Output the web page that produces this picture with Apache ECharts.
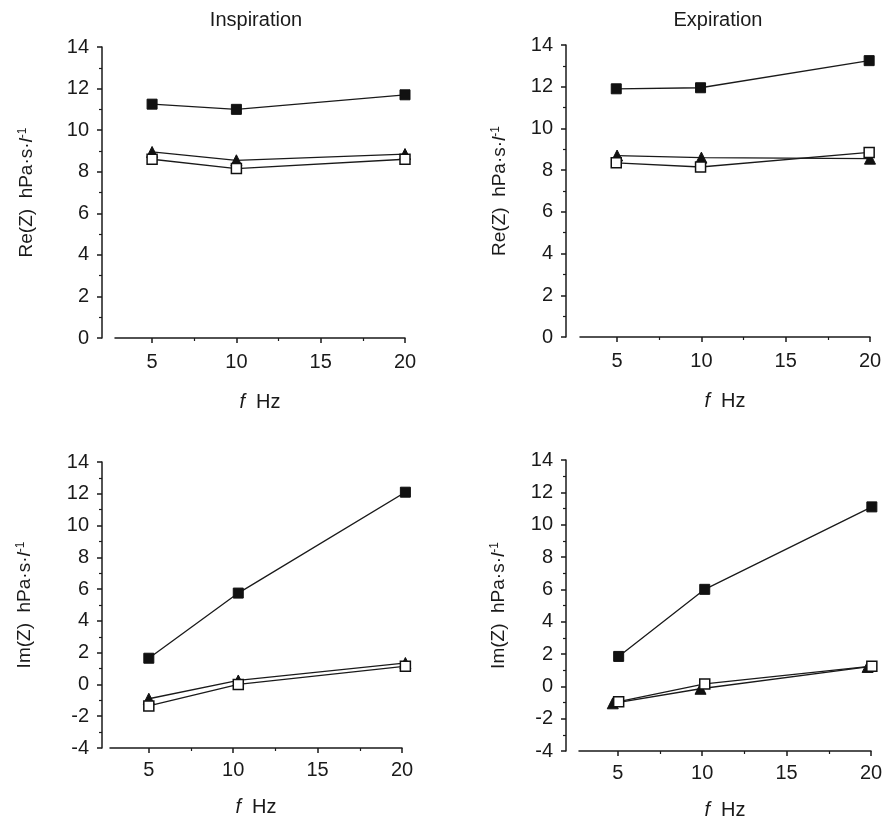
<!DOCTYPE html>
<html lang="en">
<head>
  <meta charset="UTF-8">
  <title>Impedance</title>
  <script src="https://cdn.jsdelivr.net/npm/echarts@6/dist/echarts.min.js"></script>
  <style>
    html,body{margin:0;padding:0;background:#fff;}
    #main{width:886px;height:823px;}
  </style>
</head>
<body>
  <div id="main"></div>
  <script>
    // frequencies (Hz) per panel
    var fTop = [5, 10, 20];
    var fTopExp = [4.95, 9.95, 19.95];
    var fInspIm = [5, 10.3, 20.2];
    var fExpImTri = [4.7, 9.9, 19.8];
    var fExpIm = [5.05, 10.15, 20.05];

    // Re(Z) inspiration
    var inspReFilled = [11.25, 11.0, 11.7];
    var inspReTri = [8.95, 8.55, 8.85];
    var inspReOpen = [8.6, 8.15, 8.6];
    // Re(Z) expiration
    var expReFilled = [11.9, 11.95, 13.25];
    var expReTri = [8.7, 8.6, 8.55];
    var expReOpen = [8.35, 8.15, 8.85];
    // Im(Z) inspiration
    var inspImFilled = [1.65, 5.75, 12.1];
    var inspImTri = [-0.9, 0.25, 1.35];
    var inspImOpen = [-1.35, 0.0, 1.15];
    // Im(Z) expiration
    var expImFilled = [1.85, 6.0, 11.1];
    var expImTri = [-1.05, -0.15, 1.2];
    var expImOpen = [-0.95, 0.15, 1.25];

    var xMajor = [5, 10, 15, 20];
    var xMinor = [7.5, 12.5, 17.5];

    var FONT = 'Liberation Sans, Arial, sans-serif';
    var INK = '#1a1a1a';

    function pairs(xs, ys){
      var out = [];
      for(var i=0;i<xs.length;i++){ out.push([xs[i], ys[i]]); }
      return out;
    }

    // panel layout
    var panels = [
      {grid:{left:115,top:47,width:290,height:291}, yOff:13, xMin:2.8, yMin:0, yName:'Re(Z)', gapY:66, lblM:14, nameX:54,
        filled:pairs(fTop,inspReFilled), tri:pairs(fTop,inspReTri), open:pairs(fTop,inspReOpen)},
      {grid:{left:580,top:45,width:290,height:292}, yOff:14, xMin:2.8, yMin:0, yName:'Re(Z)', gapY:57, lblM:14, nameX:54,
        filled:pairs(fTopExp,expReFilled), tri:pairs(fTop,expReTri), open:pairs(fTopExp,expReOpen)},
      {grid:{left:110,top:462,width:292,height:286}, yOff:8, xMin:2.7, yMin:-4, yName:'Im(Z)', gapY:68, lblM:12, nameX:49,
        filled:pairs(fInspIm,inspImFilled), tri:pairs(fInspIm,inspImTri), open:pairs(fInspIm,inspImOpen)},
      {grid:{left:579,top:460,width:292,height:291}, yOff:13, xMin:2.7, yMin:-4, yName:'Im(Z)', gapY:58, lblM:12, nameX:49,
        filled:pairs(fExpIm,expImFilled), tri:pairs(fExpImTri,expImTri), open:pairs(fExpIm,expImOpen)}
    ];

    var grids = [], xAxes = [], yAxes = [], series = [];
    panels.forEach(function(p, i){
      grids.push(p.grid);
      xAxes.push({
        type:'value', gridIndex:i, min:p.xMin, max:20,
        name:'{i|f}  {t|Hz}', nameLocation:'middle', nameGap:p.nameX,
        nameTextStyle:{color:INK, fontFamily:FONT, fontSize:20,
          rich:{i:{fontStyle:'italic', fontSize:20, fontFamily:FONT, color:INK}, t:{fontSize:20, fontFamily:FONT, color:INK}}},
        axisLine:{show:true, onZero:false, lineStyle:{color:INK, width:1.5}},
        axisTick:{show:true, customValues:xMajor, length:5, lineStyle:{color:INK, width:1.5}},
        axisLabel:{show:true, customValues:xMajor, margin:p.lblM, color:INK, fontFamily:FONT, fontSize:20},
        splitLine:{show:false}
      });
      // minor x ticks
      xAxes.push({
        type:'value', gridIndex:i, min:p.xMin, max:20, position:'bottom',
        axisLine:{show:false, onZero:false},
        axisTick:{show:true, customValues:xMinor, length:3, lineStyle:{color:INK, width:1.2}},
        axisLabel:{show:false},
        splitLine:{show:false}
      });
      yAxes.push({
        type:'value', gridIndex:i, min:p.yMin, max:14, interval:2, offset:p.yOff,
        name:'{t|' + p.yName + '  hPa·s·}{i|l}{s|-1}', nameLocation:'middle', nameGap:p.gapY,
        nameTextStyle:{color:INK, fontFamily:FONT, fontSize:19,
          rich:{t:{fontSize:19, fontFamily:FONT, color:INK},
                i:{fontSize:19, fontStyle:'italic', fontFamily:FONT, color:INK},
                s:{fontSize:12, fontFamily:FONT, color:INK, verticalAlign:'top'}}},
        axisLine:{show:true, onZero:false, lineStyle:{color:INK, width:1.5}},
        axisTick:{show:true, length:5, lineStyle:{color:INK, width:1.5}},
        minorTick:{show:true, splitNumber:2, length:3, lineStyle:{color:INK, width:1.2}},
        axisLabel:{margin:13, color:INK, fontFamily:FONT, fontSize:20},
        splitLine:{show:false}
      });
      var xi = i*2;
      var lineStyle = {color:INK, width:1.3};
      series.push({type:'line', xAxisIndex:xi, yAxisIndex:i, data:p.filled, symbol:'rect', symbolSize:10, clip:false,
        lineStyle:lineStyle, itemStyle:{color:'#111', borderColor:'#111', borderWidth:1}, z:3});
      series.push({type:'line', xAxisIndex:xi, yAxisIndex:i, data:p.tri, symbol:'triangle', symbolSize:11, clip:false,
        lineStyle:lineStyle, itemStyle:{color:'#111', borderColor:'#111', borderWidth:1}, z:3});
      series.push({type:'line', xAxisIndex:xi, yAxisIndex:i, data:p.open, symbol:'rect', symbolSize:10, clip:false,
        lineStyle:lineStyle, itemStyle:{color:'#fff', borderColor:'#111', borderWidth:1.5}, z:4});
    });

    var myChart = echarts.init(document.getElementById('main'));
    var option = {
      backgroundColor:'#fff',
      animation:false,
      graphic:[
        {type:'text', x:256, y:10, style:{text:'Inspiration', fontSize:20, fontFamily:FONT, fill:INK, textAlign:'center', textVerticalAlign:'top'}},
        {type:'text', x:718, y:10, style:{text:'Expiration', fontSize:20, fontFamily:FONT, fill:INK, textAlign:'center', textVerticalAlign:'top'}}
      ],
      grid:grids,
      xAxis:xAxes,
      yAxis:yAxes,
      series:series
    };
    myChart.setOption(option);
  </script>
</body>
</html>
